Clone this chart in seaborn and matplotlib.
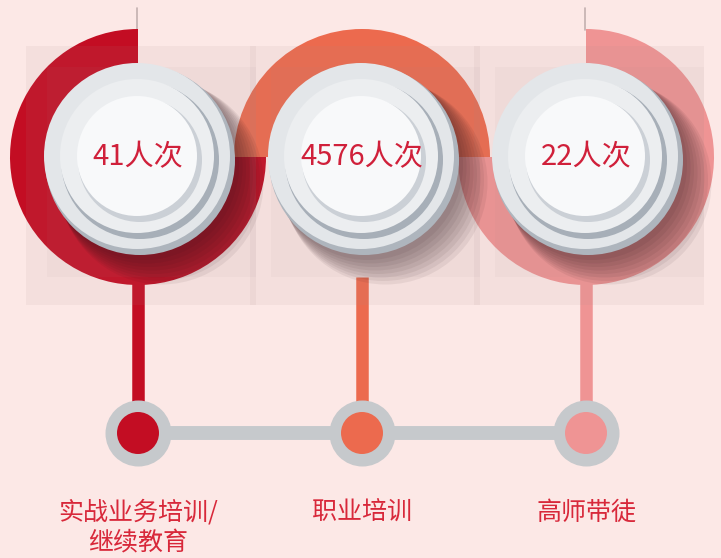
import numpy as np
import matplotlib.pyplot as plt
import seaborn as sns
import pandas as pd
from matplotlib.patches import Circle, Wedge, Rectangle

# Data
categories = ["实战业务培训/\n继续教育", "职业培训", "高师带徒"]
values = [41, 4576, 22]
unit = "人次"
colors = ["#C30D23", "#EC6A4E", "#EF9494"]
# arc span of each ring (degrees in data coords, y axis is inverted)
arcs = [(0, 270), (180, 360), (270, 540)]

sns.set_theme(style="white")
plt.rcParams['font.family'] = ['Noto Sans CJK SC', 'DejaVu Sans']

bg = "#FCE8E6"
fig = plt.figure(figsize=(7.21, 5.58), dpi=100, facecolor=bg)
ax = fig.add_axes([0, 0, 1, 1])
ax.set_facecolor(bg)

n = len(values)
xs = [138 + 224 * i for i in range(n)]
cy = 157
node_y = 433

# stems down to nodes
for cx, c in zip(xs, colors):
    ax.plot([cx, cx], [cy + 120, node_y], color=c, lw=9, solid_capstyle="butt", zorder=1)

# connector line + nodes via seaborn
df = pd.DataFrame({"x": xs, "y": [node_y] * n, "cat": categories})
sns.lineplot(data=df, x="x", y="y", color="#C6C9CC", lw=10, ax=ax, zorder=2, sort=False)
sns.scatterplot(data=df, x="x", y="y", s=(66 * 0.72) ** 2, color="#C6C9CC", linewidth=0, ax=ax, zorder=3)
sns.scatterplot(data=df, x="x", y="y", hue="cat", palette=colors, s=(42 * 0.72) ** 2,
                linewidth=0, ax=ax, zorder=4, legend=False)
ax.set_xlim(0, 721)
ax.set_ylim(558, 0)
ax.set_aspect("equal")
ax.axis("off")

# thin shadow line at top of rings 1 and 3
for i in (0, 2):
    ax.plot([xs[i] - 1, xs[i] - 1], [8, 30], color="#8A7A7A", lw=1.2, alpha=0.5, zorder=1)

# rings
for i, (cx, c, (t1, t2)) in enumerate(zip(xs, colors, arcs)):
    ax.add_patch(Wedge((cx, cy), 128, t1, t2, width=40, color=c, lw=0, zorder=5 + i * 0.1))

# faint background panels (drawn over the rings, under the buttons)
for cx in xs:
    ax.add_patch(Rectangle((cx - 112, 46), 230, 259, color="#A88C8C", alpha=0.09, lw=0, zorder=5.5))
    ax.add_patch(Rectangle((cx - 91, 67), 209, 210, color="#A88C8C", alpha=0.06, lw=0, zorder=5.5))

# buttons
for cx in xs:
    for k in range(8):
        ax.add_patch(Circle((cx + 6 + k * 2.5, cy + 8 + k * 2.5), 95 + k * 1.0,
                            color="#2A1218", alpha=0.065, lw=0, zorder=6))
    layers = [(95, "#AEB5BD", "#E3E6E9"), (79, "#A7AFB8", "#ECEEF0"), (62, "#CBD0D6", "#F8F9FA")]
    for r, dark, light in layers:
        ax.add_patch(Circle((cx + 2, cy + 3), r, color=dark, lw=0, zorder=7))
        ax.add_patch(Circle((cx - 1, cy - 1), r - 2, color=light, lw=0, zorder=7))

# value labels
for cx, v in zip(xs, values):
    ax.text(cx, cy, f"{v}{unit}", ha="center", va="center", fontsize=21,
            color="#D0203A", fontweight="light", zorder=10)

# category labels
for cx, lab in zip(xs, categories):
    ax.text(cx, 500, lab, ha="center", va="top", fontsize=18, color="#D8283A",
            fontweight="light", linespacing=1.2, zorder=10)

fig.savefig("out.png", dpi=100, facecolor=bg)
